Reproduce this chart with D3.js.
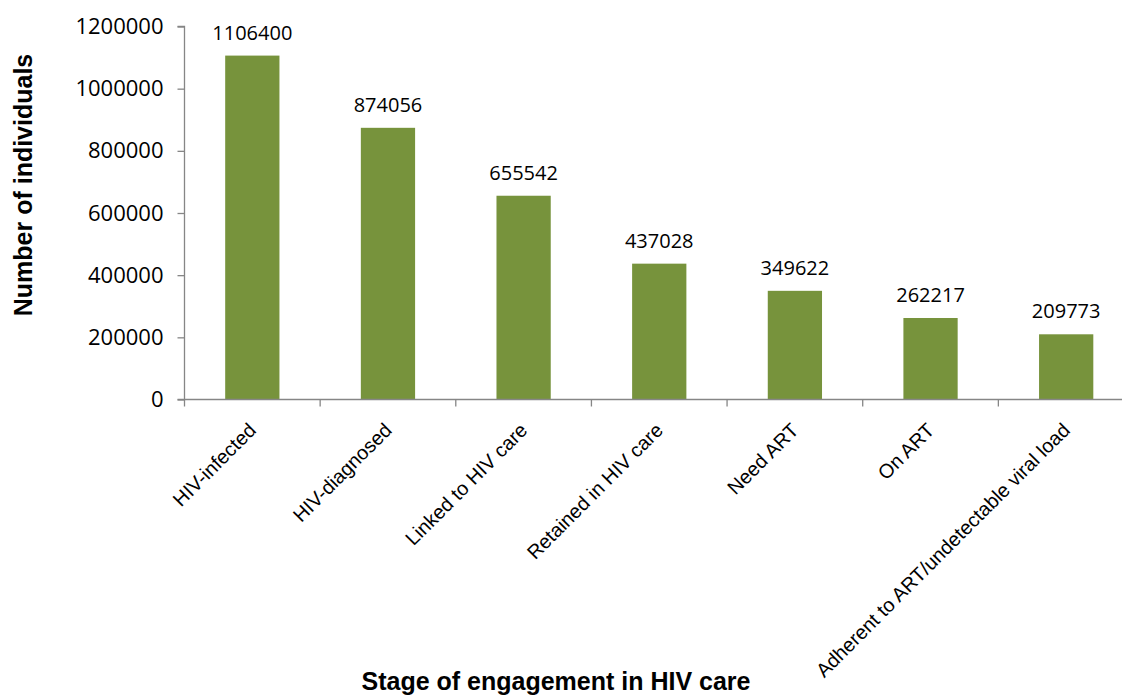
<!DOCTYPE html>
<html>
<head>
<meta charset="utf-8">
<script src="https://cdn.jsdelivr.net/npm/d3@7"></script>
<style>
  html, body { margin: 0; padding: 0; background: #fff; }
  svg { display: block; }
</style>
</head>
<body>
<svg id="chart" width="1122" height="697"></svg>
<script>
// HIV care cascade: number of individuals at each stage
const stages = [
  "HIV-infected",
  "HIV-diagnosed",
  "Linked to HIV care",
  "Retained in HIV care",
  "Need ART",
  "On ART",
  "Adherent to ART/undetectable viral load"
];
const individuals = [1106400, 874056, 655542, 437028, 349622, 262217, 209773];
const yTicks = [0, 200000, 400000, 600000, 800000, 1000000, 1200000];

const svg = d3.select("#chart");
const axisColor = "#868686";
const barColor = "#77933C";

const plot = { left: 184.5, right: 1134, top: 26.5, bottom: 399.5 };

const x = d3.scaleBand()
  .domain(stages)
  .range([plot.left, plot.right])
  .paddingInner(0.6)
  .paddingOuter(0.3);

const y = d3.scaleLinear()
  .domain([0, 1200000])
  .range([plot.bottom, plot.top]);

const step = x.step();

// Bars
svg.append("g")
  .selectAll("rect")
  .data(stages)
  .join("rect")
  .attr("x", d => x(d))
  .attr("width", x.bandwidth())
  .attr("y", (d, i) => y(individuals[i]))
  .attr("height", (d, i) => y(0) - y(individuals[i]))
  .attr("fill", barColor);

// Value labels above bars
svg.append("g")
  .selectAll("text")
  .data(stages)
  .join("text")
  .attr("x", d => x(d) + x.bandwidth() / 2)
  .attr("y", (d, i) => y(individuals[i]) - 16)
  .attr("text-anchor", "middle")
  .attr("font-family", "'Open Sans', sans-serif")
  .attr("font-size", 20)
  .attr("fill", "#000")
  .text((d, i) => individuals[i]);

// Y axis
const yAxis = d3.axisLeft(y)
  .tickValues(yTicks)
  .tickFormat(d3.format("d"))
  .tickSize(7)
  .tickPadding(14);

const gy = svg.append("g")
  .attr("transform", `translate(${plot.left},0)`)
  .call(yAxis);
gy.select(".domain").attr("stroke", axisColor).attr("stroke-width", 1.3)
  .attr("d", `M-7,${plot.bottom}H0V${plot.top}H-7`);
gy.selectAll(".tick line").attr("stroke", axisColor).attr("stroke-width", 1.3);
gy.selectAll(".tick text")
  .attr("font-family", "'Open Sans', sans-serif")
  .attr("font-size", 22)
  .attr("fill", "#000");

// X axis line with ticks at category boundaries
const gx = svg.append("g").attr("class", "x-axis");
gx.append("line")
  .attr("x1", plot.left).attr("x2", plot.right)
  .attr("y1", plot.bottom).attr("y2", plot.bottom)
  .attr("stroke", axisColor).attr("stroke-width", 1.3);
const boundaries = d3.range(stages.length + 1).map(i => plot.left + i * step);
gx.selectAll("line.tick")
  .data(boundaries)
  .join("line")
  .attr("class", "tick")
  .attr("x1", d => d).attr("x2", d => d)
  .attr("y1", plot.bottom).attr("y2", plot.bottom + 7)
  .attr("stroke", axisColor).attr("stroke-width", 1.3);

// Rotated category labels
gx.selectAll("text")
  .data(stages)
  .join("text")
  .attr("transform", d => `translate(${x(d) + x.bandwidth() / 2 + 5},${plot.bottom + 32}) rotate(-45)`)
  .attr("text-anchor", "end")
  .attr("font-family", "'Liberation Sans', Arial, sans-serif")
  .attr("font-size", 19.8)
  .attr("fill", "#000")
  .text(d => d);

// Axis titles
svg.append("text")
  .attr("transform", "translate(32,185) rotate(-90)")
  .attr("text-anchor", "middle")
  .attr("font-family", "'Liberation Sans', Arial, sans-serif")
  .attr("font-weight", "bold")
  .attr("font-size", 25)
  .attr("fill", "#000")
  .text("Number of individuals");

svg.append("text")
  .attr("x", 556)
  .attr("y", 690)
  .attr("text-anchor", "middle")
  .attr("font-family", "'Liberation Sans', Arial, sans-serif")
  .attr("font-weight", "bold")
  .attr("font-size", 25)
  .attr("fill", "#000")
  .text("Stage of engagement in HIV care");
</script>
</body>
</html>
